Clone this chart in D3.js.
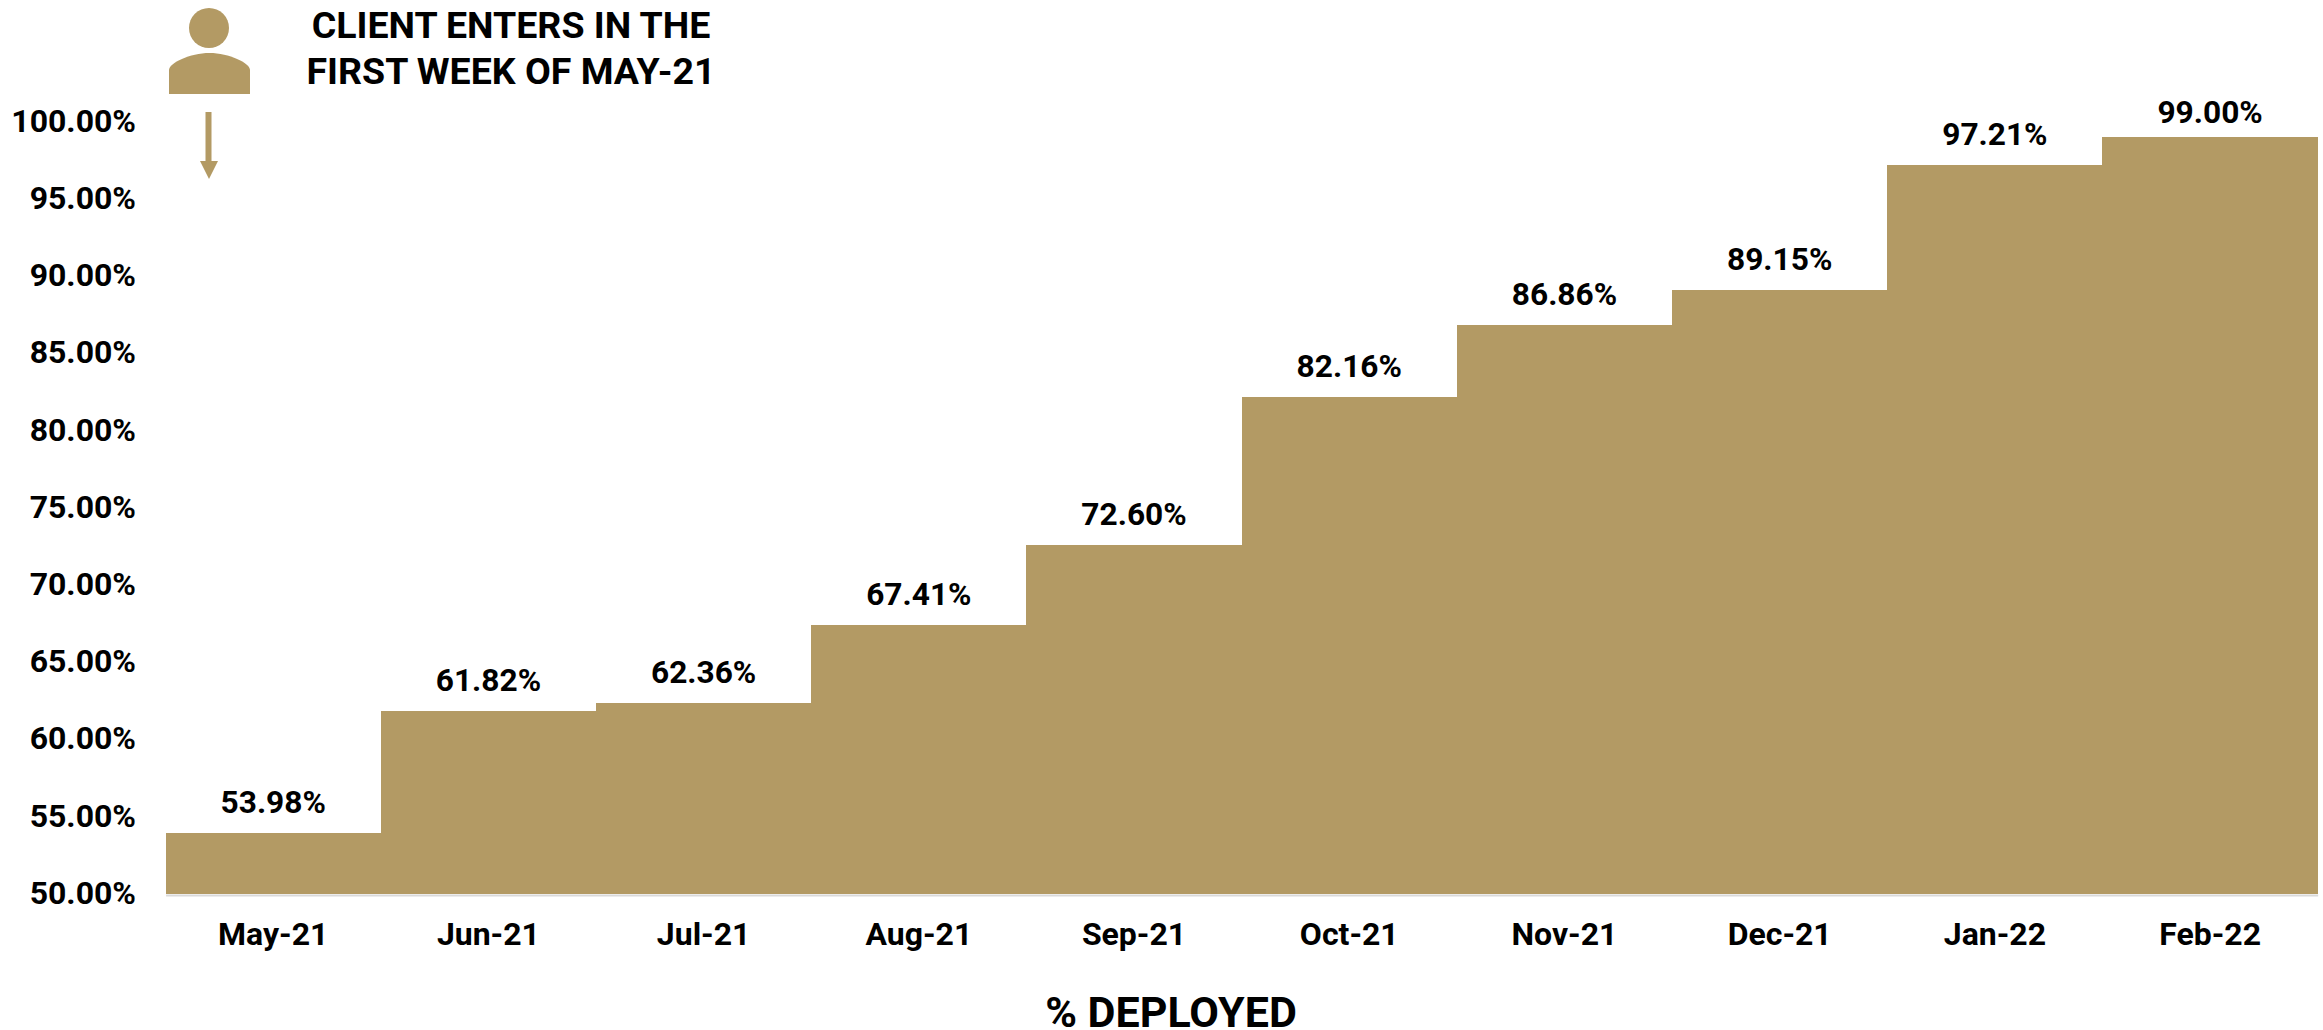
<!DOCTYPE html>
<html><head><meta charset="utf-8">
<script src="https://cdn.jsdelivr.net/npm/d3@7"></script>
<style>html,body{margin:0;background:#fff}svg{display:block}text{font-family:Roboto,sans-serif;font-weight:700;fill:#000}</style>
</head><body><svg id="c" width="2323" height="1030"></svg>
<script>
const months=["May-21","Jun-21","Jul-21","Aug-21","Sep-21","Oct-21","Nov-21","Dec-21","Jan-22","Feb-22"];
const deployed=[53.98,61.82,62.36,67.41,72.60,82.16,86.86,89.15,97.21,99.00];
const yTicks=[50,55,60,65,70,75,80,85,90,95,100];
const noteLines=["CLIENT ENTERS IN THE","FIRST WEEK OF MAY-21"];
const axisTitle="% DEPLOYED";
const gold="#B39A64";
const svg=d3.select("#c");
const x=d3.scaleBand().domain(months).range([165.6,2317.7]).padding(0);
const y=d3.scaleLinear().domain([50,100]).range([894,122]);
svg.selectAll("rect.bar").data(deployed).join("rect").attr("class","bar")
 .attr("x",(d,i)=>x(months[i])).attr("width",x.bandwidth()+0.5)
 .attr("y",d=>y(d)).attr("height",d=>y(50)-y(d)).attr("fill",gold).attr("shape-rendering","crispEdges");
const ax=svg.append("g").attr("transform",`translate(0,${y(50)})`)
 .call(d3.axisBottom(x).tickSize(0).tickPadding(28));
ax.select(".domain").attr("stroke","#d9d9d9").attr("stroke-width",2).attr("transform","translate(0,1)");
ax.selectAll("text").attr("font-size",32).attr("font-family",null);
const ay=svg.append("g").attr("transform","translate(166,0)")
 .call(d3.axisLeft(y).tickValues(yTicks).tickSize(0).tickPadding(30).tickFormat(d=>d.toFixed(2)+"%"));
ay.select(".domain").remove();
ay.selectAll("text").attr("font-size",32).attr("font-family",null).attr("dy","0.29em");
svg.selectAll("text.val").data(deployed).join("text").attr("class","val")
 .attr("x",(d,i)=>x(months[i])+x.bandwidth()/2).attr("y",(d,i)=>y(d)-(i===9?14:20))
 .attr("text-anchor","middle").attr("font-size",31.700).text(d=>d.toFixed(2)+"%");
svg.selectAll("text.note").data(noteLines).join("text").attr("class","note")
 .attr("x",511).attr("y",(d,i)=>38+i*45.500).attr("text-anchor","middle").attr("font-size",37.500).text(d=>d);
svg.append("text").attr("x",1171).attr("y",1027).attr("text-anchor","middle").attr("font-size",43).text(axisTitle);
// person icon with arrow
const icon=svg.append("g").attr("fill",gold);
icon.append("ellipse").attr("cx",209).attr("cy",28).attr("rx",20).attr("ry",20);
icon.append("path").attr("d","M169 94V70C169 63 190 53 209.500 53C229 53 250 63 250 70V94Z");
icon.append("rect").attr("x",205.500).attr("y",112).attr("width",6).attr("height",50);
icon.append("path").attr("d","M200 161H218L209 179Z");
</script></body></html>
